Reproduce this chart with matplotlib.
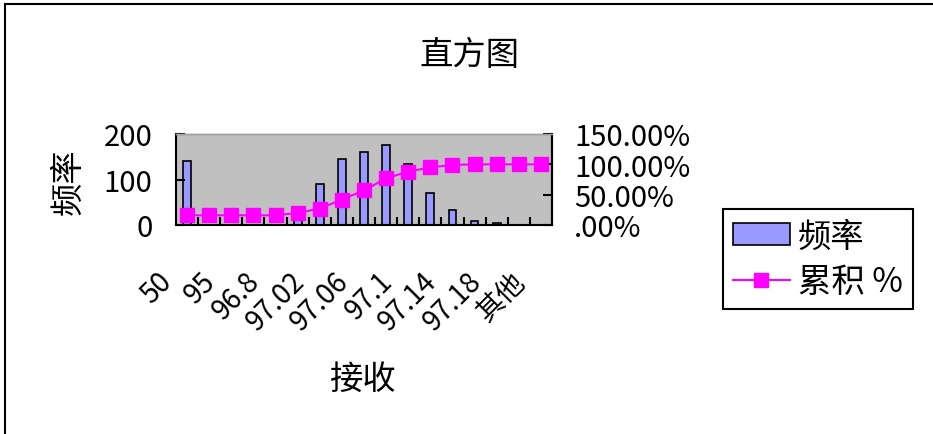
import numpy as np
import matplotlib
matplotlib.use("Agg")
import matplotlib.pyplot as plt
import matplotlib.transforms as mtransforms
from matplotlib.lines import Line2D
from matplotlib.ticker import FixedLocator, FuncFormatter

plt.rcParams["font.family"] = ["Noto Sans CJK SC", "DejaVu Sans"]

# histogram bins (hidden labels left empty, Excel skipped every other one)
bins = ["50", "", "95", "", "96.8", "", "97.02", "", "97.06", "", "97.1", "",
        "97.14", "", "97.18", "", "其他"]
freq = [141, 0, 0, 0, 0, 12, 90, 146, 160, 175, 135, 70, 34, 9, 5, 0, 0]
cum_pct = [0.16, 0.16, 0.16, 0.16, 0.16, 0.20, 0.27, 0.42, 0.57, 0.77, 0.88,
           0.95, 0.99, 1.0, 1.0, 1.0, 1.0]
left_ticks = [0, 100, 200]
right_ticks = [0, 0.5, 1.0, 1.5]

W, H = 933, 435
fig = plt.figure(figsize=(W / 100, H / 100), dpi=100)
ax = fig.add_axes([176 / W, 1 - 226 / H, 376 / W, 91 / H])

x = np.arange(len(bins))
bars = ax.bar(x, freq, width=0.35, color="#9999ff", edgecolor="black", linewidth=1.2)
ax.set_facecolor("#c0c0c0")
ax.set_xlim(-0.5, len(bins) - 0.5)
ax.set_ylim(0, 200)
ax.set_yticks(left_ticks)

ax.set_xticks(x, bins)
ax.xaxis.set_minor_locator(FixedLocator(x[:-1] + 0.5))
ax.tick_params(axis="x", which="major", length=0, pad=37, labelsize=20)
ax.tick_params(axis="x", which="minor", direction="in", length=6, width=1.5)
ax.tick_params(axis="y", direction="in", length=6.5, width=1.5, pad=17, labelsize=21)

shift = mtransforms.ScaledTranslation(-20 / 100, 0, fig.dpi_scale_trans)
for lab in ax.get_xticklabels():
    lab.set_rotation(45)
    lab.set_ha("right")
    lab.set_va("center")
    lab.set_rotation_mode("anchor")
    lab.set_transform(lab.get_transform() + shift)

ax2 = ax.twinx()
line, = ax2.plot(x, cum_pct, color="#ff00ff", lw=1.5, marker="s", ms=9.5,
                 mec="#ff00ff", mfc="#ff00ff")
ax2.set_ylim(0, 1.5)
ax2.set_yticks(right_ticks)
ax2.yaxis.set_major_formatter(FuncFormatter(lambda v, _: f"{v * 100:.2f}%".lstrip("0")))
ax2.tick_params(axis="y", direction="in", length=6.5, width=1.5, pad=16, labelsize=21)

for a in (ax, ax2):
    for side in ("left", "right", "bottom"):
        a.spines[side].set_linewidth(1.5)
        a.spines[side].set_color("black")
    a.spines["top"].set_color("#a0a0a0")
    a.spines["top"].set_linewidth(1)
ax2.spines["left"].set_visible(False)
ax2.spines["bottom"].set_visible(False)

ax.set_ylabel("频率", fontsize=24, va="center")
ax.yaxis.set_label_coords(-0.287, 0.484)
ax.set_xlabel("接收", fontsize=24, va="center")
ax.xaxis.set_label_coords(0.495, -1.69)
fig.text(470 / W, 1 - 55 / H, "直方图", fontsize=24, ha="center", va="center")

# chart border (only top and left edges visible)
fig.add_artist(Line2D([5 / W, 5 / W], [0, 1 - 5 / H], transform=fig.transFigure,
                      color="black", lw=1.5))
fig.add_artist(Line2D([5 / W, 1], [1 - 5 / H, 1 - 5 / H], transform=fig.transFigure,
                      color="black", lw=1.5))

leg = fig.legend([bars, line], ["频率", "累积 %"], loc="upper left",
                 bbox_to_anchor=(723 / W, 1 - 210 / H), fontsize=24,
                 fancybox=False, edgecolor="black", framealpha=1,
                 handlelength=1.7, handleheight=0.65, handletextpad=0.25,
                 labelspacing=0.3, borderpad=0.3, borderaxespad=0)
leg.get_frame().set_linewidth(1.5)

fig.savefig("out.png", dpi=100)
